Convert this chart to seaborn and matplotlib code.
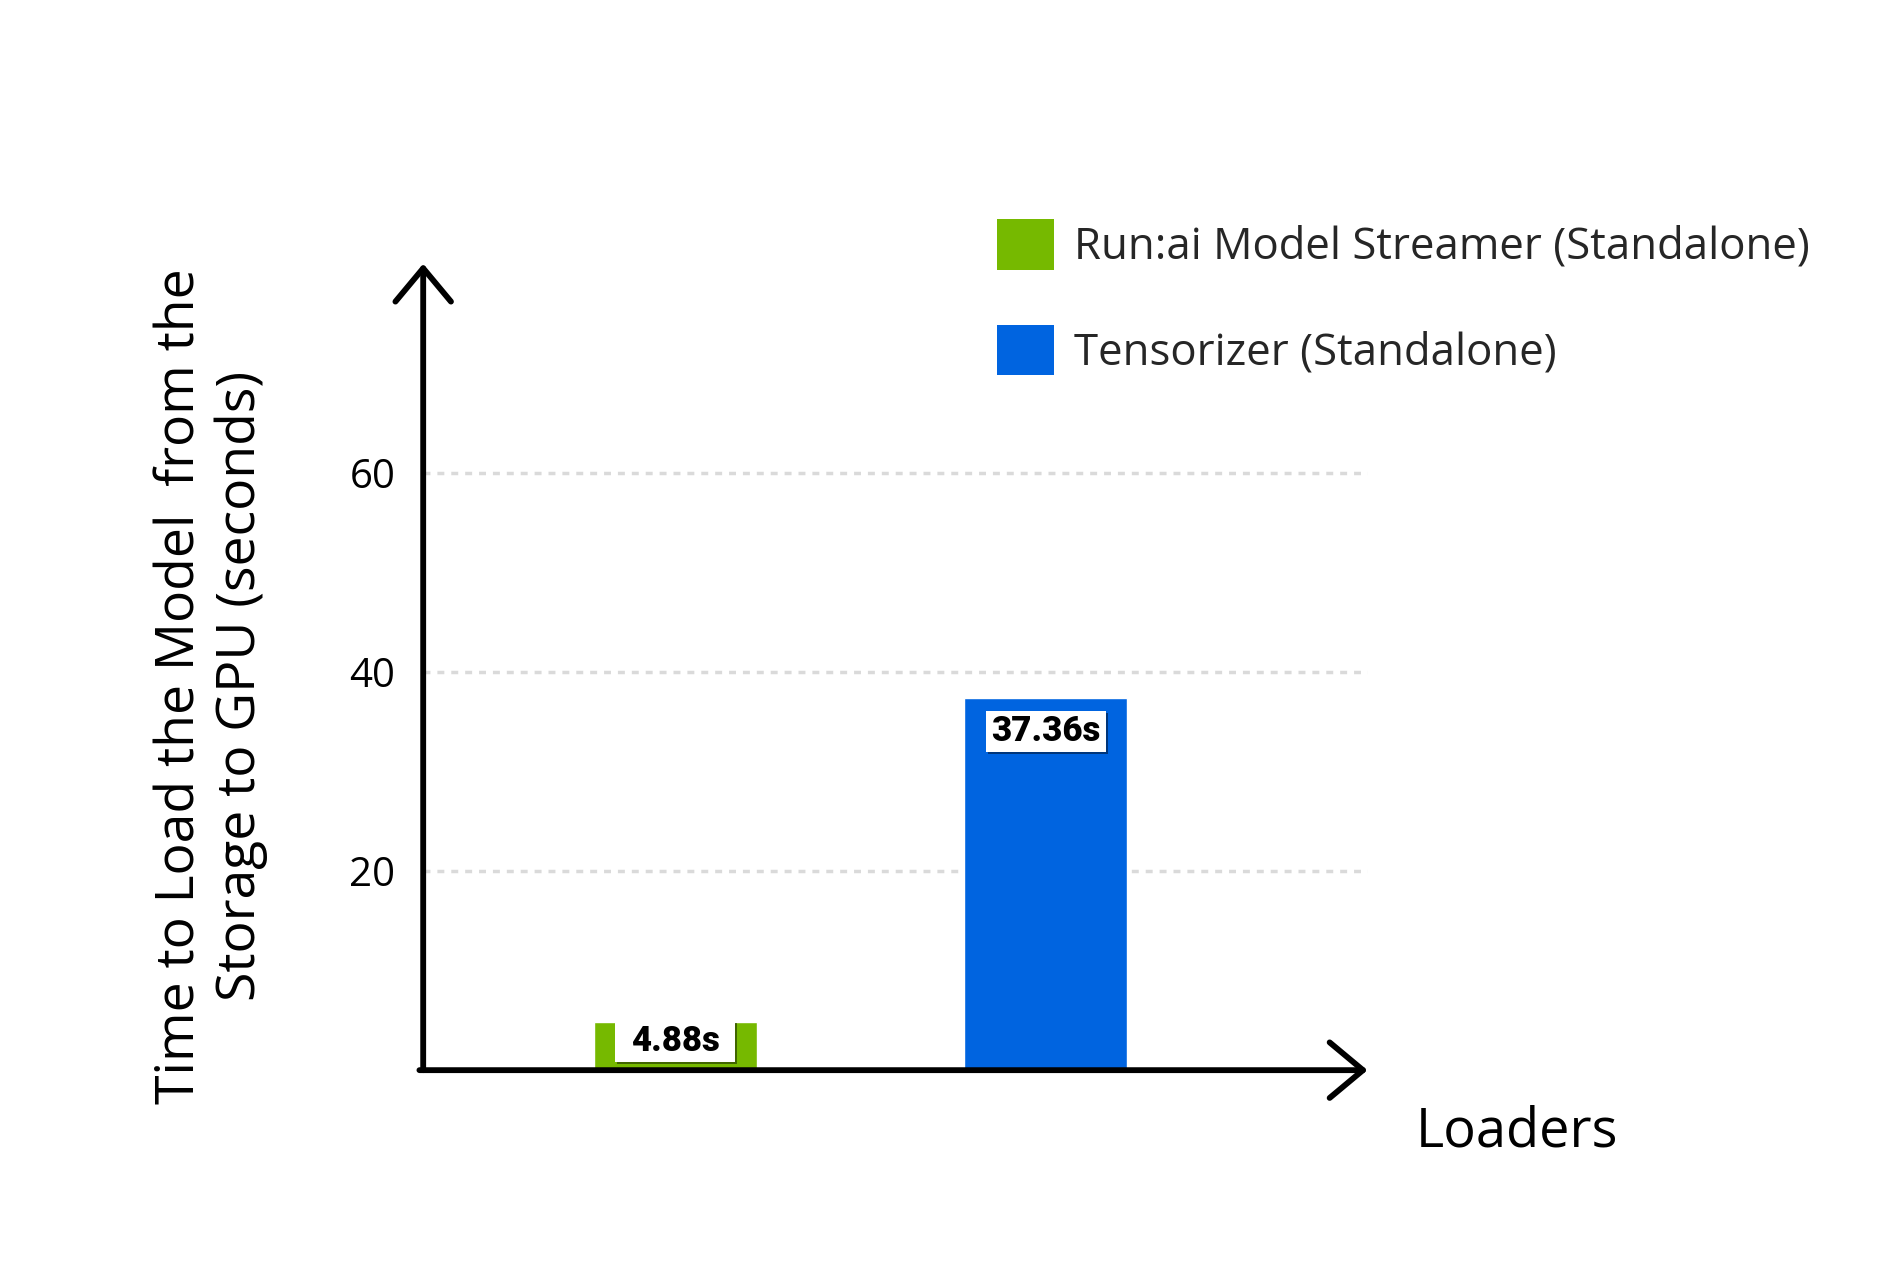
import matplotlib
matplotlib.use("Agg")
import matplotlib.pyplot as plt
import matplotlib.patheffects as pe
from matplotlib.patches import Patch
from matplotlib.path import Path
import seaborn as sns
import pandas as pd

# ---- data ----
loaders = ["Run:ai Model Streamer (Standalone)", "Tensorizer (Standalone)"]
load_times = [4.88, 37.36]
value_labels = ["4.88s", "37.36s"]
bar_colors = ["#76B900", "#0064E0"]
y_ticks = [20, 40, 60]
x_title = "Loaders"
y_title = "Time to Load the Model  from the\nStorage to GPU (seconds)"

sns.set_theme(style="white")
plt.rcParams["font.family"] = ["Open Sans", "DejaVu Sans"]

df = pd.DataFrame({"loader": loaders, "time": load_times})
palette = dict(zip(loaders, bar_colors))

fig = plt.figure(figsize=(19.02, 12.74), dpi=100)
fig.patch.set_facecolor("white")
ax = fig.add_axes([0.2225, 0.160, 0.4965, 0.633])

sns.barplot(data=df, x="loader", y="time", hue="loader", palette=palette,
            width=0.44, saturation=1, legend=False, ax=ax, zorder=2)

ax.set_xlim(-0.68, 1.868)
ax.set_ylim(0, 81)
ax.set_yticks(y_ticks)
ax.set_yticklabels([str(t) for t in y_ticks], fontsize=29, color="black")
ax.tick_params(axis="y", length=0, pad=20)
ax.set_xticks([])
ax.set_xlabel("")
ax.set_ylabel("")
for s in ax.spines.values():
    s.set_visible(False)
ax.set_facecolor("none")

ax.yaxis.grid(True, color="#dadada", linestyle=(0, (2, 2)), linewidth=2.5, zorder=0)
ax.set_axisbelow(True)

# axis arrows
arrow_kw = dict(arrowstyle="->,head_length=0.6,head_width=0.5", lw=4.2,
                color="black", mutation_scale=40, shrinkA=0, shrinkB=0,
                capstyle="round", joinstyle="round")
ax.annotate("", xy=(0, 1), xytext=(0, 0), xycoords="axes fraction",
            textcoords="axes fraction", arrowprops=arrow_kw, annotation_clip=False, zorder=5)
ax.annotate("", xy=(1, 0), xytext=(-0.004, 0), xycoords="axes fraction",
            textcoords="axes fraction", arrowprops=arrow_kw, annotation_clip=False, zorder=5)


def fixed_box(x0, y0, width, height, mutation_size, box_w=120, box_h=41):
    cx = x0 + width / 2.0
    cy = y0 + height / 2.0
    verts = [(cx - box_w / 2, cy - box_h / 2), (cx + box_w / 2, cy - box_h / 2),
             (cx + box_w / 2, cy + box_h / 2), (cx - box_w / 2, cy + box_h / 2),
             (cx - box_w / 2, cy - box_h / 2)]
    return Path(verts, closed=True)


# value labels
for i, (v, lab) in enumerate(zip(load_times, value_labels)):
    t = ax.text(i, max(v - 3.3, v * 0.6), lab, ha="center", va="center",
                fontsize=25, fontweight="black",
                family=["Roboto", "DejaVu Sans"], color="black",
                bbox=dict(boxstyle=fixed_box, fc="white", ec="none"), zorder=6)
    t.get_bbox_patch().set_path_effects(
        [pe.withSimplePatchShadow(offset=(1.5, -2), shadow_rgbFace="black", alpha=0.45), pe.Normal()])

# legend
handles = [Patch(facecolor=c, edgecolor="none") for c in bar_colors]
fig.legend(handles, loaders, loc="upper left", bbox_to_anchor=(0.524, 0.828),
           frameon=False, fontsize=31.5, handlelength=1.31, handleheight=1.4,
           handletextpad=0.45, labelspacing=1.25, borderpad=0, borderaxespad=0)

# titles
fig.text(211 / 1902, 1 - 686 / 1274, y_title, rotation=90, ha="center", va="center",
         multialignment="center", fontsize=38.5, color="black", linespacing=1.15)
fig.text(1416 / 1902, 1 - 1132 / 1274, x_title, ha="left", va="center",
         fontsize=39, color="black")

fig.savefig("out.png", dpi=100, facecolor="white")
